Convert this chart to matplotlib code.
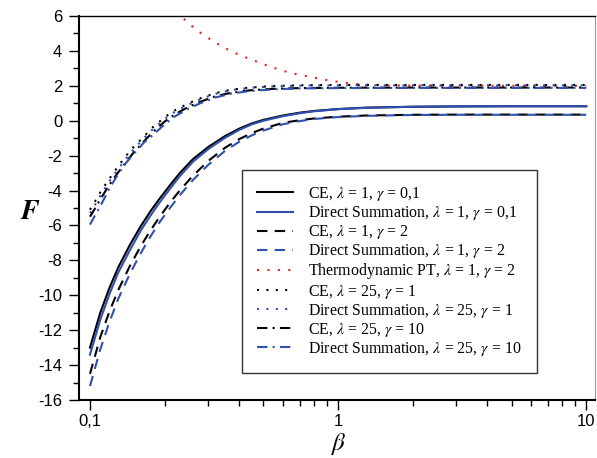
import numpy as np
import matplotlib
matplotlib.use('Agg')
import matplotlib.pyplot as plt
from matplotlib.ticker import FixedLocator, NullFormatter

plt.rcParams['mathtext.fontset'] = 'stix'
plt.rcParams['axes.unicode_minus'] = False

# lambda = 1, gamma = 0,1
b_a = [0.1, 0.11, 0.12, 0.13, 0.145, 0.16, 0.175, 0.19, 0.21, 0.23, 0.26, 0.3, 0.35,
       0.4, 0.45, 0.5, 0.6, 0.7, 0.8, 1.0, 1.3, 2, 3, 5, 10]
ce_a = [-13.0, -11.0, -9.55, -8.4, -7.1, -6.05, -5.2, -4.5, -3.7, -3.0, -2.2, -1.5, -0.88,
        -0.45, -0.15, 0.05, 0.3, 0.46, 0.56, 0.67, 0.75, 0.8, 0.82, 0.83, 0.83]
ds_a = [-13.4, -11.4, -9.9, -8.7, -7.4, -6.3, -5.45, -4.72, -3.9, -3.18, -2.35, -1.62, -0.98,
        -0.52, -0.2, 0.0, 0.26, 0.43, 0.54, 0.66, 0.74, 0.8, 0.82, 0.83, 0.83]
# lambda = 1, gamma = 2
ce_b = [-14.5, -12.4, -10.9, -9.7, -8.3, -7.2, -6.3, -5.55, -4.7, -4.0, -3.15, -2.3, -1.55,
        -1.05, -0.7, -0.45, -0.12, 0.03, 0.13, 0.23, 0.3, 0.34, 0.35, 0.35, 0.35]
ds_b = [-15.2, -13.1, -11.5, -10.2, -8.75, -7.6, -6.65, -5.85, -5.0, -4.27, -3.4, -2.52, -1.73,
        -1.2, -0.83, -0.56, -0.2, -0.02, 0.1, 0.21, 0.28, 0.33, 0.34, 0.34, 0.34]

# thermodynamic perturbation theory, lambda = 1, gamma = 2
b_pt = [0.225, 0.232, 0.268, 0.316, 0.373, 0.447, 0.491, 0.534, 0.588, 0.636, 0.71, 0.78,
        0.855, 0.94, 1.02, 1.13, 1.25, 1.4, 1.7, 2.5, 5, 10]
f_pt = [6.3, 6.0, 5.2, 4.52, 3.95, 3.5, 3.29, 3.09, 2.9, 2.76, 2.61, 2.51,
        2.38, 2.29, 2.21, 2.13, 2.08, 2.04, 2.02, 2.01, 2.0, 2.0]

# lambda = 25
b_c = [0.1, 0.105, 0.11, 0.12, 0.13, 0.14, 0.15, 0.165, 0.18, 0.2, 0.22, 0.25, 0.28,
       0.32, 0.37, 0.44, 0.55, 0.7, 1, 2, 5, 10]
ce_c = [-5.1, -4.6, -4.1, -3.3, -2.6, -2.0, -1.5, -0.9, -0.35, 0.2, 0.6, 1.0, 1.3,
        1.58, 1.78, 1.9, 1.99, 2.03, 2.05, 2.05, 2.05, 2.05]
ds_c = [-5.3, -4.8, -4.3, -3.45, -2.75, -2.15, -1.63, -1.0, -0.45, 0.1, 0.52, 0.93, 1.25,
        1.54, 1.75, 1.88, 1.97, 2.01, 2.03, 2.03, 2.03, 2.03]
ce_d = [-5.5, -5.0, -4.5, -3.65, -2.95, -2.35, -1.82, -1.18, -0.62, -0.05, 0.37, 0.8, 1.1,
        1.4, 1.6, 1.74, 1.83, 1.87, 1.89, 1.9, 1.9, 1.9]
ds_d = [-5.95, -5.4, -4.9, -3.85, -3.05, -2.4, -1.9, -1.25, -0.8, -0.2, 0.25, 0.7, 1.02,
        1.33, 1.55, 1.7, 1.8, 1.85, 1.87, 1.88, 1.88, 1.88]

blue = '#3050b0'
red = '#e8231e'

fig = plt.figure(figsize=(5.97, 4.58), dpi=100)
ax = fig.add_axes([79/597, 1 - 400/458, (595 - 79)/597, (400 - 16)/458])

ax.plot(b_a, ce_a, color='black', lw=1.5, label=r'CE, $\lambda$ = 1, $\gamma$ = 0,1')
ax.plot(b_a, ds_a, color=blue, lw=1.5, label=r'Direct Summation, $\lambda$ = 1, $\gamma$ = 0,1')
ax.plot(b_a, ce_b, color='black', lw=1.5, ls=(0, (5, 3.5)), label=r'CE, $\lambda$ = 1, $\gamma$ = 2')
ax.plot(b_a, ds_b, color=blue, lw=1.5, ls=(0, (5, 3.5)), label=r'Direct Summation, $\lambda$ = 1, $\gamma$ = 2')
ax.plot(b_pt, f_pt, color=red, lw=1.5, ls=(0, (1, 4)), label=r'Thermodynamic PT, $\lambda$ = 1, $\gamma$ = 2')
ax.plot(b_c, ce_c, color='black', lw=1.5, ls=(0, (1, 3.5)), label=r'CE, $\lambda$ = 25, $\gamma$ = 1')
ax.plot(b_c, ds_c, color=blue, lw=1.5, ls=(0, (1, 3.5)), label=r'Direct Summation, $\lambda$ = 25, $\gamma$ = 1')
ax.plot(b_c, ce_d, color='black', lw=1.5, ls=(0, (5, 2.5, 1, 2.5)), label=r'CE, $\lambda$ = 25, $\gamma$ = 10')
ax.plot(b_c, ds_d, color=blue, lw=1.5, ls=(0, (5, 2.5, 1, 2.5)), label=r'Direct Summation, $\lambda$ = 25, $\gamma$ = 10')

ax.set_xscale('log')
ax.set_xlim(0.0903, 10.85)
ax.set_ylim(-16, 6)

ax.xaxis.set_major_locator(FixedLocator([0.1, 1, 10]))
ax.set_xticklabels(['0,1', '1', '10'])
minors = [m * 10.0 ** e for e in (-2, -1, 0) for m in range(2, 10)]
ax.xaxis.set_minor_locator(FixedLocator(minors))
ax.xaxis.set_minor_formatter(NullFormatter())
ax.set_yticks(np.arange(-16, 7, 2))
ax.set_yticks(np.arange(-15, 6, 2), minor=True)

ax.tick_params(which='both', direction='out', top=False, right=False,
               labelsize=12, width=1.0, color='black')
ax.tick_params(which='major', length=7)
ax.tick_params(which='minor', length=4)
ax.tick_params(axis='x', pad=3)
ax.tick_params(axis='y', pad=5)
for lab in ax.get_xticklabels() + ax.get_yticklabels():
    lab.set_fontfamily('Liberation Sans')

for s in ['left', 'bottom']:
    ax.spines[s].set_linewidth(1.5)
ax.spines['top'].set_linewidth(1.0)
ax.spines['right'].set_linewidth(0.8)
ax.spines['right'].set_color('#999999')

ax.set_xlabel(r'$\beta$', fontsize=18)
ax.xaxis.set_label_coords(0.502, -0.082)
ax.set_ylabel(r'$\boldsymbol{F}$', fontsize=20, rotation=0)
ax.yaxis.set_label_coords(-0.095, 0.455)

leg = ax.legend(loc='upper left', bbox_to_anchor=(242/597, 1 - 170/458),
                bbox_transform=fig.transFigure, borderaxespad=0,
                prop={'family': 'Liberation Serif', 'size': 11.4},
                fancybox=False, framealpha=1, edgecolor='#333333',
                handlelength=2.3, handletextpad=0.95, labelspacing=0.07,
                borderpad=0.95)
leg.get_frame().set_linewidth(1.0)

fig.savefig('out.png', dpi=100)
